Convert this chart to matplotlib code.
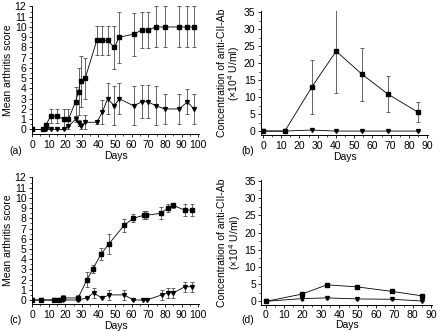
import matplotlib.pyplot as plt
from matplotlib.ticker import MultipleLocator

plt.rcParams['font.family'] = ['Liberation Sans', 'DejaVu Sans']
plt.rcParams['font.size'] = 7.5

# panel (a): mean arthritis score
a_sq_x = [0, 6.8, 8.2, 11.3, 15.3, 19.1, 21.9, 26.2, 28.0, 29.2, 32.0, 39.0, 42.3,
          45.5, 49.5, 52.5, 61.2, 66.0, 69.8, 74.6, 79.9, 88.7, 93.4, 97.4]
a_sq_y = [0, 0, 0.4, 1.3, 1.3, 1.0, 1.0, 2.7, 3.7, 4.7, 5.0, 8.7, 8.7,
          8.7, 8.0, 9.0, 9.3, 9.7, 9.7, 10, 10, 10, 10, 10]
a_sq_e = [0, 0, 0, 0.7, 0.7, 1.0, 1.0, 1.4, 2.3, 2.5, 2.0, 1.4, 1.4,
          1.4, 2.1, 2.5, 2.1, 1.8, 1.8, 2.0, 2.0, 2.0, 2.0, 2.0]
a_tr_x = [0, 8.2, 11.3, 15.3, 19.1, 21.9, 26.2, 28.0, 29.2, 32.0, 39.0, 42.3,
          45.5, 49.5, 52.5, 61.2, 66.0, 69.8, 74.6, 79.9, 88.7, 93.4, 97.4]
a_tr_y = [0, 0, 0, 0, 0, 0.3, 1.0, 0.6, 0.3, 0.7, 0.7, 1.7,
          3.0, 2.3, 3.0, 2.3, 2.7, 2.7, 2.3, 2.0, 2.0, 2.7, 2.0]
a_tr_e = [0, 0, 0, 0, 0, 0, 0.3, 0.3, 0.3, 0.7, 0.2, 1.2,
          1.5, 1.9, 1.5, 1.9, 1.6, 1.6, 1.9, 1.5, 1.5, 1.2, 1.5]

# panel (b): anti-CII antibody
b_sq_x = [0, 12, 26.7, 40.1, 54.3, 68.4, 84.8]
b_sq_y = [0, 0, 12.9, 23.5, 16.7, 10.9, 5.6]
b_sq_e = [0, 0, 7.9, 12.4, 7.8, 5.3, 2.9]
b_tr_x = [0, 12, 26.7, 40.1, 54.3, 68.4, 84.8]
b_tr_y = [0, 0, 0.3, 0, 0, 0, 0]
b_tr_e = [0, 0, 0, 0, 0, 0, 0]

# panel (c): mean arthritis score
c_sq_x = [0, 5.6, 13.2, 16.2, 18.8, 27.7, 33.1, 36.5, 41.5, 46.3, 55.3, 60.9,
          67.1, 68.7, 77.8, 81.6, 84.6, 91.8, 96.2]
c_sq_y = [0, 0, 0, 0, 0.2, 0.2, 2.0, 3.0, 4.5, 5.5, 7.3, 8.0,
          8.3, 8.3, 8.5, 9.0, 9.3, 8.8, 8.8]
c_sq_e = [0, 0, 0, 0, 0.3, 0.3, 0.7, 0.4, 0.6, 1.0, 0.6, 0.4,
          0.4, 0.4, 0.6, 0.4, 0.25, 0.6, 0.6]
c_tr_x = [0, 5.6, 13.2, 16.2, 18.8, 27.7, 33.1, 37.0, 42.0, 46.5, 55.5, 61.0,
          67.0, 69.0, 78.0, 82.0, 85.0, 92.0, 96.2]
c_tr_y = [0, 0, 0, 0, 0, 0, 0.2, 0.7, 0.2, 0.5, 0.5, 0,
          0, 0, 0.5, 0.7, 0.7, 1.3, 1.3]
c_tr_e = [0, 0, 0, 0, 0, 0, 0, 0.5, 0, 0.5, 0.5, 0,
          0, 0, 0.5, 0.5, 0.5, 0.5, 0.5]

# panel (d): anti-CII antibody
d_sq_x = [0, 19.6, 33.2, 49.8, 68.5, 85.1]
d_sq_y = [0, 2.1, 4.8, 4.2, 2.9, 1.6]
d_sq_e = [0, 0.6, 0.3, 0.7, 0.6, 0.4]
d_tr_x = [0, 19.6, 33.2, 49.8, 68.5, 85.1]
d_tr_y = [0, 0.8, 1.0, 0.7, 0.6, 0.1]
d_tr_e = [0, 0.4, 0.4, 0.2, 0.2, 0.1]

score_label = 'Mean arthritis score'
conc_label = 'Concentration of anti-CII-Ab\n(\u00d710$^4$ U/ml)'


def draw(ax, sq, tr):
    for (x, y, e), mk, ms in ((sq, 's', 2.2), (tr, 'v', 2.8)):
        ax.errorbar(x, y, yerr=e, fmt='-', color='k', lw=0.6, marker=mk,
                    ms=ms, ecolor='0.3', elinewidth=0.6, capsize=1.6,
                    capthick=0.6)


def style(ax, xmaj, ymaj, pad=1.5, labelpad=1):
    for s in ('top', 'right'):
        ax.spines[s].set_visible(False)
    ax.spines['left'].set_linewidth(0.7)
    ax.spines['bottom'].set_linewidth(0.7)
    ax.xaxis.set_major_locator(MultipleLocator(xmaj))
    ax.xaxis.set_minor_locator(MultipleLocator(xmaj / 2))
    ax.yaxis.set_major_locator(MultipleLocator(ymaj))
    ax.yaxis.set_minor_locator(MultipleLocator(ymaj / 2))
    ax.tick_params(which='major', length=2.5, width=0.6, pad=pad)
    ax.tick_params(which='minor', length=1.5, width=0.5)
    ax.set_xlabel('Days', labelpad=labelpad)


fig = plt.figure(figsize=(4.42, 3.31), dpi=100)

ax_a = fig.add_axes([0.0724, 0.595, 0.378, 0.387])
draw(ax_a, (a_sq_x, a_sq_y, a_sq_e), (a_tr_x, a_tr_y, a_tr_e))
style(ax_a, 10, 1)
ax_a.set_xlim(0, 100.5)
ax_a.set_ylim(-0.45, 12.05)
ax_a.set_ylabel(score_label, labelpad=1)

ax_b = fig.add_axes([0.5905, 0.592, 0.378, 0.3746])
draw(ax_b, (b_sq_x, b_sq_y, b_sq_e), (b_tr_x, b_tr_y, b_tr_e))
style(ax_b, 10, 5)
ax_b.set_xlim(-1.1, 90.5)
ax_b.set_ylim(-1.17, 35.3)
ax_b.set_ylabel(conc_label, labelpad=1, linespacing=1.0)

ax_c = fig.add_axes([0.0724, 0.0816, 0.378, 0.3837])
draw(ax_c, (c_sq_x, c_sq_y, c_sq_e), (c_tr_x, c_tr_y, c_tr_e))
style(ax_c, 10, 1)
ax_c.set_xlim(0, 100.5)
ax_c.set_ylim(-0.39, 12.05)
ax_c.set_ylabel(score_label, labelpad=1)

ax_d = fig.add_axes([0.5905, 0.078, 0.387, 0.378])
draw(ax_d, (d_sq_x, d_sq_y, d_sq_e), (d_tr_x, d_tr_y, d_tr_e))
style(ax_d, 10, 5, pad=1, labelpad=0)
ax_d.set_xlim(-2.7, 90.5)
ax_d.set_ylim(-1.12, 35.3)
ax_d.set_ylabel(conc_label, labelpad=1, linespacing=1.0)

fig.text(0.022, 0.535, '(a)', fontsize=7.5)
fig.text(0.545, 0.535, '(b)', fontsize=7.5)
fig.text(0.022, 0.025, '(c)', fontsize=7.5)
fig.text(0.545, 0.025, '(d)', fontsize=7.5)

fig.savefig('out.png', dpi=100)
